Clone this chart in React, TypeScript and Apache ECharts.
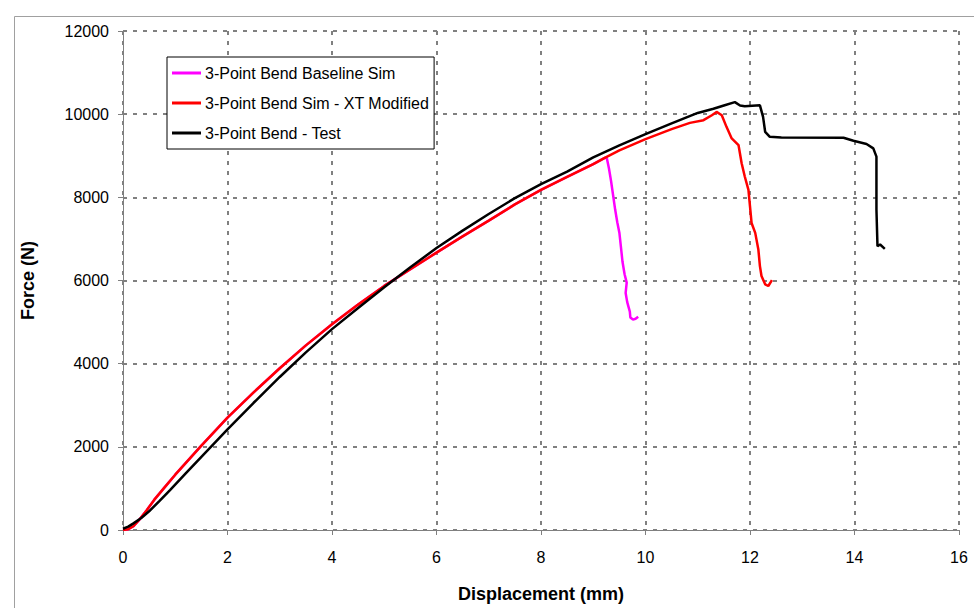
import React, { useEffect, useRef } from "react";
import * as echarts from "echarts";

// Displacement (mm), Force (N)
const baselineDisp = [0, 0.1, 0.2, 0.3, 0.45, 0.6, 0.8, 1.0, 1.5, 2.0, 2.5, 3.0, 3.5, 4.0, 4.5, 5.0, 5.5, 6.0, 6.5, 7.0, 7.5, 8.0, 8.5, 9.0, 9.22, 9.26, 9.3, 9.34, 9.38, 9.42, 9.46, 9.5, 9.53, 9.56, 9.6, 9.64, 9.62, 9.65, 9.7, 9.71, 9.76, 9.81, 9.86];
const baselineForce = [0, 20, 90, 230, 470, 730, 1030, 1330, 2030, 2700, 3310, 3890, 4440, 4950, 5420, 5870, 6270, 6670, 7060, 7440, 7830, 8180, 8490, 8800, 8950, 8940, 8700, 8400, 8050, 7700, 7400, 7150, 6800, 6450, 6150, 5950, 5700, 5480, 5250, 5110, 5060, 5080, 5130];

const modifiedDisp = [0, 0.1, 0.2, 0.3, 0.45, 0.6, 0.8, 1.0, 1.5, 2.0, 2.5, 3.0, 3.5, 4.0, 4.5, 5.0, 5.5, 6.0, 6.5, 7.0, 7.5, 8.0, 8.5, 9.0, 9.22, 9.5, 10.0, 10.5, 10.85, 11.11, 11.27, 11.36, 11.46, 11.55, 11.65, 11.78, 11.84, 11.9, 11.97, 12.0, 12.03, 12.1, 12.16, 12.19, 12.22, 12.29, 12.35, 12.42];
const modifiedForce = [0, 20, 90, 230, 470, 730, 1030, 1330, 2030, 2700, 3310, 3890, 4440, 4950, 5420, 5870, 6270, 6670, 7060, 7440, 7830, 8180, 8490, 8800, 8950, 9130, 9400, 9640, 9791, 9855, 9975, 10054, 9975, 9695, 9417, 9257, 8819, 8500, 8181, 7782, 7384, 7145, 6745, 6346, 6107, 5908, 5868, 6011];

const testDisp = [0, 0.1, 0.2, 0.35, 0.5, 0.7, 0.9, 1.2, 1.5, 2.0, 2.5, 3.0, 3.5, 4.0, 4.5, 5.0, 5.5, 6.0, 6.5, 7.0, 7.5, 8.0, 8.5, 9.0, 9.5, 10.0, 10.5, 11.0, 11.3, 11.5, 11.71, 11.81, 11.9, 12.19, 12.25, 12.29, 12.38, 12.6, 13.79, 13.98, 14.23, 14.36, 14.42, 14.42, 14.44, 14.49, 14.58];
const testForce = [30, 80, 160, 290, 450, 700, 960, 1360, 1760, 2420, 3060, 3680, 4270, 4830, 5340, 5840, 6320, 6780, 7200, 7600, 7980, 8320, 8620, 8960, 9250, 9520, 9780, 10030, 10130, 10210, 10290, 10210, 10190, 10213, 9934, 9576, 9456, 9440, 9432, 9360, 9281, 9178, 8978, 7702, 6825, 6865, 6762];

const seriesNames = ["3-Point Bend Baseline Sim", "3-Point Bend Sim - XT Modified", "3-Point Bend - Test"];
const seriesColors = ["#FF00FF", "#FF0000", "#000000"];

const zip = (xs: number[], ys: number[]) => xs.map((x, i) => [x, ys[i]]);

const FONT = "'Liberation Sans', Arial, sans-serif";

export default function App() {
  const ref = useRef<HTMLDivElement>(null);
  useEffect(() => {
    if (!ref.current) return;
    const chart = echarts.init(ref.current, undefined, { renderer: "svg" });
    const datasets = [zip(baselineDisp, baselineForce), zip(modifiedDisp, modifiedForce), zip(testDisp, testForce)];
    chart.setOption({
      animation: false,
      backgroundColor: "#fff",
      textStyle: { fontFamily: FONT },
      grid: { left: 123, right: 15, top: 31, bottom: 76 },
      graphic: [
        {
          type: "rect",
          left: 12,
          top: 14,
          shape: { width: 1000, height: 700 },
          style: { fill: "none", stroke: "#a0a0a0", lineWidth: 1 },
          silent: true,
          z: -10,
        },
      ],
      legend: {
        orient: "vertical",
        left: 167,
        top: 57,
        padding: [7, 5, 7, 5],
        itemGap: 12,
        itemWidth: 29,
        itemHeight: 3,
        icon: "rect",
        backgroundColor: "#fff",
        borderColor: "#000",
        borderWidth: 1,
        textStyle: { fontFamily: FONT, fontSize: 16, color: "#000", lineHeight: 18, padding: [0, 0, 0, -1] },
        data: seriesNames,
      },
      xAxis: {
        type: "value",
        min: 0,
        max: 16,
        interval: 2,
        name: "Displacement (mm)",
        nameLocation: "middle",
        nameGap: 55,
        nameTextStyle: { fontFamily: FONT, fontSize: 18, fontWeight: "bold", color: "#000" },
        axisLine: { show: true, lineStyle: { color: "#808080", width: 1 } },
        axisTick: { show: true, length: 5, lineStyle: { color: "#808080" } },
        axisLabel: { fontFamily: FONT, fontSize: 16, color: "#000", margin: 19, formatter: (v: number) => String(v) },
        splitLine: { show: true, lineStyle: { color: "#808080", width: 2, type: [4, 6] } },
      },
      yAxis: {
        type: "value",
        min: 0,
        max: 12000,
        interval: 2000,
        name: "Force (N)",
        nameLocation: "middle",
        nameGap: 86,
        nameTextStyle: { fontFamily: FONT, fontSize: 18, fontWeight: "bold", color: "#000" },
        axisLine: { show: true, lineStyle: { color: "#808080", width: 1 } },
        axisTick: { show: true, length: 5, lineStyle: { color: "#808080" } },
        axisLabel: { fontFamily: FONT, fontSize: 16, color: "#000", margin: 14, formatter: (v: number) => String(v) },
        splitLine: { show: true, lineStyle: { color: "#808080", width: 2, type: [4, 6] } },
      },
      series: seriesNames.map((name, i) => ({
        name,
        type: "line",
        data: datasets[i],
        showSymbol: false,
        symbol: "none",
        color: seriesColors[i],
        lineStyle: { color: seriesColors[i], width: 2.5 },
        z: 2 + i,
      })),
    });
    return () => chart.dispose();
  }, []);
  return <div ref={ref} style={{ position: "fixed", left: 0, top: 0, width: 974, height: 608 }} />;
}
